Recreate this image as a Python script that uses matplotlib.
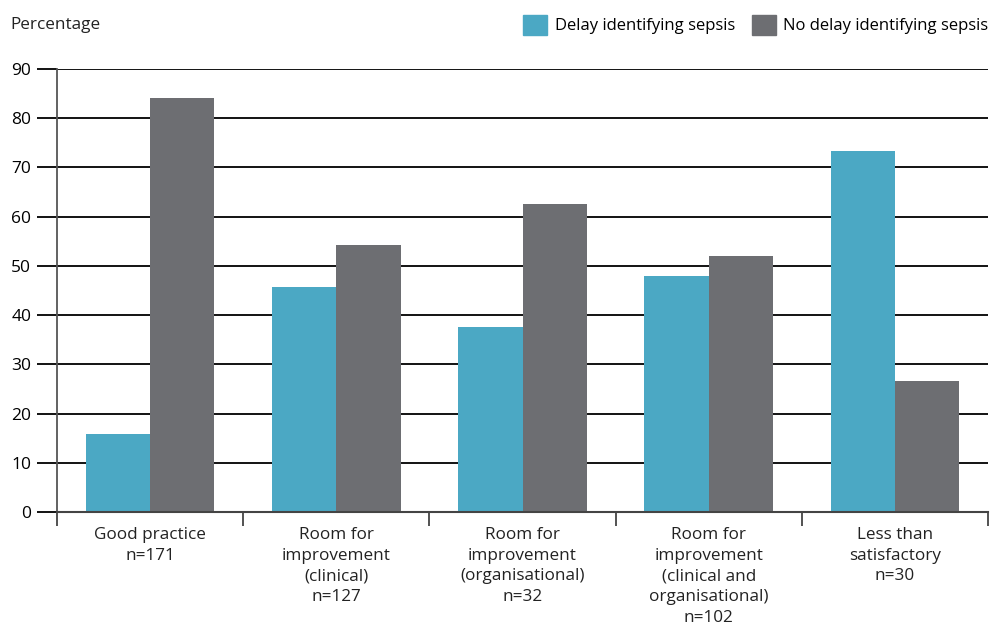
import numpy as np
import matplotlib
matplotlib.use('Agg')
import matplotlib.pyplot as plt
from matplotlib.patches import Patch

plt.rcParams['font.family'] = ['Open Sans', 'DejaVu Sans']

# data
categories = ['Good practice\nn=171',
              'Room for\nimprovement\n(clinical)\nn=127',
              'Room for\nimprovement\n(organisational)\nn=32',
              'Room for\nimprovement\n(clinical and\norganisational)\nn=102',
              'Less than\nsatisfactory\nn=30']
delay = [15.8, 45.7, 37.5, 48.0, 73.3]
no_delay = [84.2, 54.3, 62.5, 52.0, 26.7]
series_names = ['Delay identifying sepsis', 'No delay identifying sepsis']
teal = '#4ba8c4'
grey = '#6d6e72'

fig = plt.figure(figsize=(9.92, 6.24), dpi=100)
ax = fig.add_axes([0.0575, 0.1795, 0.9385, 0.7099])

x = np.arange(len(categories))
w = 0.345
ax.bar(x - w / 2, delay, w, color=teal, zorder=3)
ax.bar(x + w / 2, no_delay, w, color=grey, zorder=3)

ax.set_xlim(-0.5, len(categories) - 0.5)
ax.set_ylim(0, 90)
ax.set_yticks(np.arange(0, 91, 10))
ax.yaxis.grid(True, color='black', linewidth=1.3, zorder=1)
ax.tick_params(axis='y', length=14.5, width=1.3, color='black', pad=4, labelsize=12.5)

ax.set_xticks(x)
ax.set_xticklabels(categories, fontsize=12.3, linespacing=1.38, color='#222222')
ax.tick_params(axis='x', length=0, pad=11)
ax.set_xticks(np.arange(-0.5, len(categories), 1), minor=True)
ax.tick_params(axis='x', which='minor', length=10, width=1.3, color='#444444')

for s in ['top', 'right']:
    ax.spines[s].set_visible(False)
ax.spines['left'].set_color('#555555')
ax.spines['left'].set_linewidth(1.3)
ax.spines['bottom'].set_color('#444444')
ax.spines['bottom'].set_linewidth(1.5)
ax.spines['bottom'].set_zorder(4)

fig.text(0.01, 0.96, 'Percentage', fontsize=12.3, va='center', ha='left', color='#222222')

handles = [Patch(color=teal), Patch(color=grey)]
fig.legend(handles, series_names, loc='center right', bbox_to_anchor=(1.003, 0.96), ncol=2,
           frameon=False, fontsize=12, handlelength=1.45, handleheight=1.45,
           handletextpad=0.45, columnspacing=1.0, borderaxespad=0)

fig.savefig('out.png', dpi=100)
